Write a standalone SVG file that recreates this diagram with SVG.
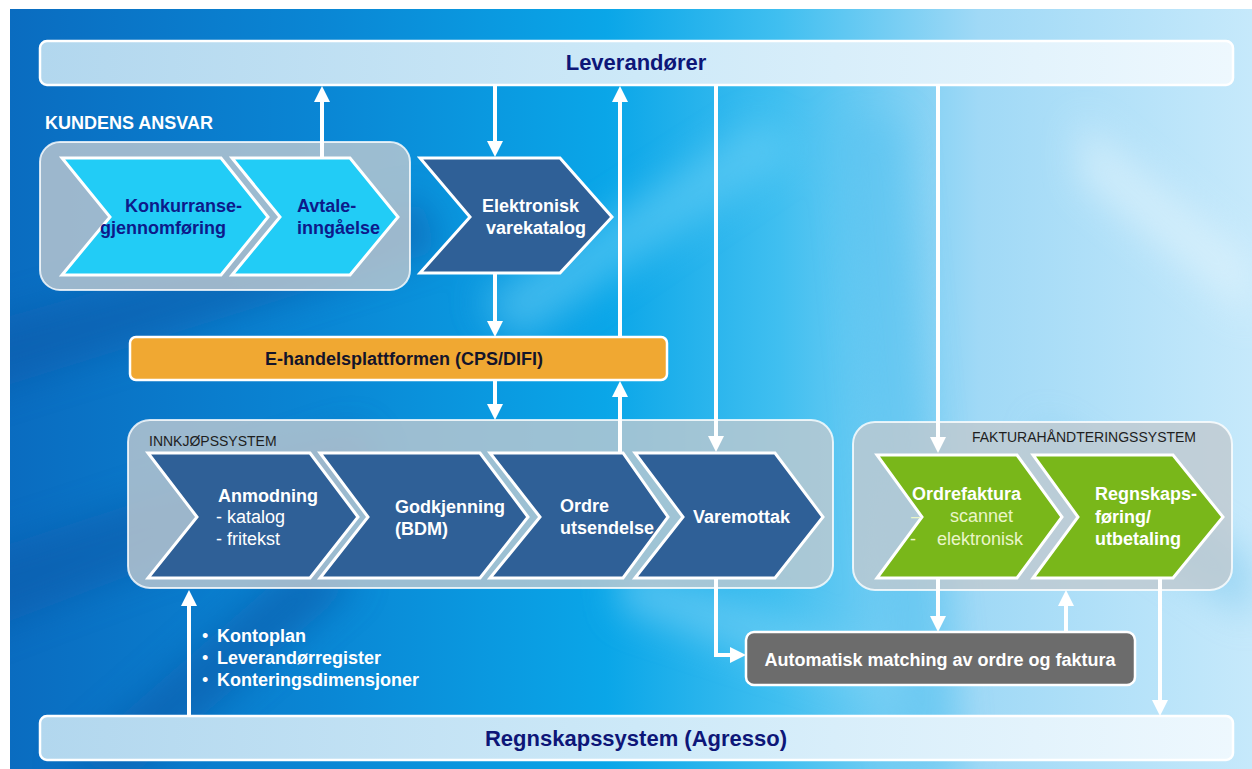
<svg xmlns="http://www.w3.org/2000/svg" width="1252" height="769" viewBox="0 0 1252 769">
  <defs>
    <linearGradient id="bg" x1="0" y1="0" x2="1" y2="0">
      <stop offset="0" stop-color="#0a6cc0"/>
      <stop offset="0.25" stop-color="#0a86d4"/>
      <stop offset="0.48" stop-color="#0aa6e8"/>
      <stop offset="0.62" stop-color="#40bff0"/>
      <stop offset="0.78" stop-color="#a0d9f6"/>
      <stop offset="1" stop-color="#c6e9fb"/>
    </linearGradient>
    <linearGradient id="bar" x1="0" y1="0" x2="1" y2="0">
      <stop offset="0" stop-color="#b2d7ee"/>
      <stop offset="0.5" stop-color="#cde9f8"/>
      <stop offset="1" stop-color="#eef8fe"/>
    </linearGradient>
    <filter id="soft" x="-20%" y="-20%" width="140%" height="140%">
      <feGaussianBlur stdDeviation="18"/>
    </filter>
    <clipPath id="bgclip"><rect x="10" y="9" width="1242" height="760"/></clipPath>
    <marker id="ah" viewBox="0 0 16 16" refX="6" refY="8" markerWidth="16" markerHeight="16" markerUnits="userSpaceOnUse" orient="auto">
      <path d="M0,0 L16,8 L0,16 z" fill="#ffffff"/>
    </marker>
    <style>
      .grp { fill: #c0c9d0; fill-opacity: 0.8; stroke: #ffffff; stroke-opacity: 0.8; stroke-width: 2; }
      .bar { fill: url(#bar); stroke: #ffffff; stroke-width: 2.5; }
      .chev { stroke: #ffffff; stroke-width: 3; stroke-linejoin: miter; }
      .cyan { fill: #22ccf6; }
      .navy { fill: #2f6097; }
      .green { fill: #79b71a; }
      .conn { fill: none; stroke: #ffffff; stroke-width: 4; marker-end: url(#ah); }
      text { font-family: "Liberation Sans", Arial, sans-serif; }
      .b { font-weight: bold; font-size: 18px; }
      .n { font-size: 18px; }
      .title { font-weight: bold; font-size: 22px; fill: #0d1678; }
      .cap { font-size: 14px; fill: #1e1e1e; }
      .w { fill: #ffffff; }
      .dk { fill: #0d1a8a; }
      .lt { fill: #eaf5c8; }
    </style>
  </defs>

  <!-- backdrop -->
  <rect x="0" y="0" width="1252" height="769" fill="#ffffff"/>
  <g clip-path="url(#bgclip)">
    <rect x="10" y="9" width="1242" height="760" fill="url(#bg)"/>
    <g filter="url(#soft)" opacity="0.55">
      <path d="M-40,330 L420,200 L440,250 L-40,400 z" fill="#0a5aa8"/>
      <path d="M-40,560 L360,430 L380,480 L-40,640 z" fill="#0a5aa8"/>
      <path d="M60,769 L300,560 L360,580 L140,769 z" fill="#0a58a6"/>
      <path d="M480,300 L760,120 L800,150 L520,340 z" fill="#6cd0f6"/>
      <path d="M840,120 L900,769 L960,769 L900,120 z" fill="#58c2f0"/>
      <path d="M1040,420 L1252,560 L1252,620 L1040,480 z" fill="#7cc8ee"/>
      <path d="M620,560 L900,660 L900,700 L620,610 z" fill="#80d4f6"/>
      <path d="M1080,120 L1252,260 L1252,320 L1080,180 z" fill="#e4f5fd"/>
    </g>
  </g>

  <!-- supplier bar -->
  <g id="leverandorer">
    <rect class="bar" x="40" y="41" width="1193" height="44" rx="7"/>
    <text class="title" x="636" y="70" text-anchor="middle">Leverandører</text>
  </g>

  <!-- customer responsibility -->
  <g id="kundens-ansvar">
    <text class="b w" x="45" y="129">KUNDENS ANSVAR</text>
    <rect class="grp" x="40" y="142" width="370" height="148" rx="20"/>
  </g>
  <g id="konkurranse">
    <polygon class="chev cyan" points="62,158 221,158 268,217 221,275 62,275 110,217"/>
    <text class="b dk" x="125" y="212">Konkurranse-</text>
    <text class="b dk" x="100" y="234">gjennomføring</text>
  </g>
  <g id="avtale">
    <polygon class="chev cyan" points="232,158 350,158 398,217 350,275 232,275 280,217"/>
    <text class="b dk" x="297" y="212">Avtale-</text>
    <text class="b dk" x="297" y="234">inngåelse</text>
  </g>

  <g id="varekatalog">
    <polygon class="chev navy" points="420,158 560,158 612,217 560,273 420,273 470,217"/>
    <text class="b w" x="482" y="212">Elektronisk</text>
    <text class="b w" x="486" y="234">varekatalog</text>
  </g>

  <!-- e-commerce platform -->
  <g id="ehandel">
    <rect x="130" y="337" width="537" height="43" rx="6" fill="#f0a832" stroke="#ffffff" stroke-width="2.5"/>
    <text class="b" x="404" y="365" text-anchor="middle" fill="#14142a" font-size="17.5">E-handelsplattformen (CPS/DIFI)</text>
  </g>

  <!-- purchasing system -->
  <g id="innkjopssystem">
    <rect class="grp" x="128" y="420" width="705" height="168" rx="22"/>
    <text class="cap" x="149" y="446">INNKJØPSSYSTEM</text>
  </g>
  <g id="anmodning">
    <polygon class="chev navy" points="148,453 310,453 358,517 310,578 148,578 197,517"/>
    <text class="b w" x="218" y="502">Anmodning</text>
    <text class="n w" x="216" y="523">- katalog</text>
    <text class="n w" x="216" y="545">- fritekst</text>
  </g>
  <g id="godkjenning">
    <polygon class="chev navy" points="320,453 480,453 528,517 480,578 320,578 368,517"/>
    <text class="b w" x="395" y="513">Godkjenning</text>
    <text class="b w" x="395" y="535">(BDM)</text>
  </g>
  <g id="ordre">
    <polygon class="chev navy" points="490,453 623,453 668,517 623,578 490,578 540,517"/>
    <text class="b w" x="560" y="512">Ordre</text>
    <text class="b w" x="560" y="534">utsendelse</text>
  </g>
  <g id="varemottak">
    <polygon class="chev navy" points="635,453 775,453 823,517 775,578 635,578 683,517"/>
    <text class="b w" x="693" y="523">Varemottak</text>
  </g>

  <!-- invoice handling system -->
  <g id="fakturasystem">
    <rect class="grp" x="853" y="422" width="379" height="168" rx="22"/>
    <text class="cap" x="972" y="442">FAKTURAHÅNDTERINGSSYSTEM</text>
  </g>
  <g id="ordrefaktura">
    <polygon class="chev green" points="877,455 1017,455 1062,517 1017,578 877,578 922,517"/>
    <text class="b w" x="912" y="500">Ordrefaktura</text>
    <text class="n lt" x="911" y="522">–</text>
    <text class="n lt" x="950" y="522">scannet</text>
    <text class="n lt" x="910" y="545">-</text>
    <text class="n lt" x="937" y="545">elektronisk</text>
  </g>
  <g id="regnskapsforing">
    <polygon class="chev green" points="1033,455 1173,455 1223,517 1173,578 1033,578 1078,517"/>
    <text class="b w" x="1095" y="500">Regnskaps-</text>
    <text class="b w" x="1095" y="523">føring/</text>
    <text class="b w" x="1095" y="545">utbetaling</text>
  </g>

  <!-- automatic matching -->
  <g id="matching">
    <rect x="746" y="632" width="389" height="53" rx="8" fill="#6c6c6c" stroke="#ffffff" stroke-width="2.5"/>
    <text class="b w" x="940" y="666" text-anchor="middle" font-size="17.5">Automatisk matching av ordre og faktura</text>
  </g>

  <!-- master data list -->
  <g id="stamdata">
    <text class="n w" x="202" y="642">•</text>
    <text class="b w" x="217" y="642">Kontoplan</text>
    <text class="n w" x="202" y="664">•</text>
    <text class="b w" x="217" y="664">Leverandørregister</text>
    <text class="n w" x="202" y="686">•</text>
    <text class="b w" x="217" y="686">Konteringsdimensjoner</text>
  </g>

  <!-- accounting system bar -->
  <g id="regnskapssystem">
    <rect class="bar" x="40" y="716" width="1193" height="44" rx="7"/>
    <text class="title" x="636" y="746" text-anchor="middle">Regnskapssystem (Agresso)</text>
  </g>

  <!-- connectors -->
  <g id="connectors">
    <path class="conn" d="M322,158 V96"/>
    <path class="conn" d="M495,86 V147"/>
    <path class="conn" d="M495,274 V327"/>
    <path class="conn" d="M495,381 V410"/>
    <path class="conn" d="M620,453 V391"/>
    <path class="conn" d="M620,337 V96"/>
    <path class="conn" d="M716,86 V442"/>
    <path class="conn" d="M938,86 V443"/>
    <path class="conn" d="M716,579 V655 H736"/>
    <path class="conn" d="M938,579 V622"/>
    <path class="conn" d="M1066,632 V600"/>
    <path class="conn" d="M1160,579 V706"/>
    <path class="conn" d="M189,716 V600"/>
  </g>
</svg>
